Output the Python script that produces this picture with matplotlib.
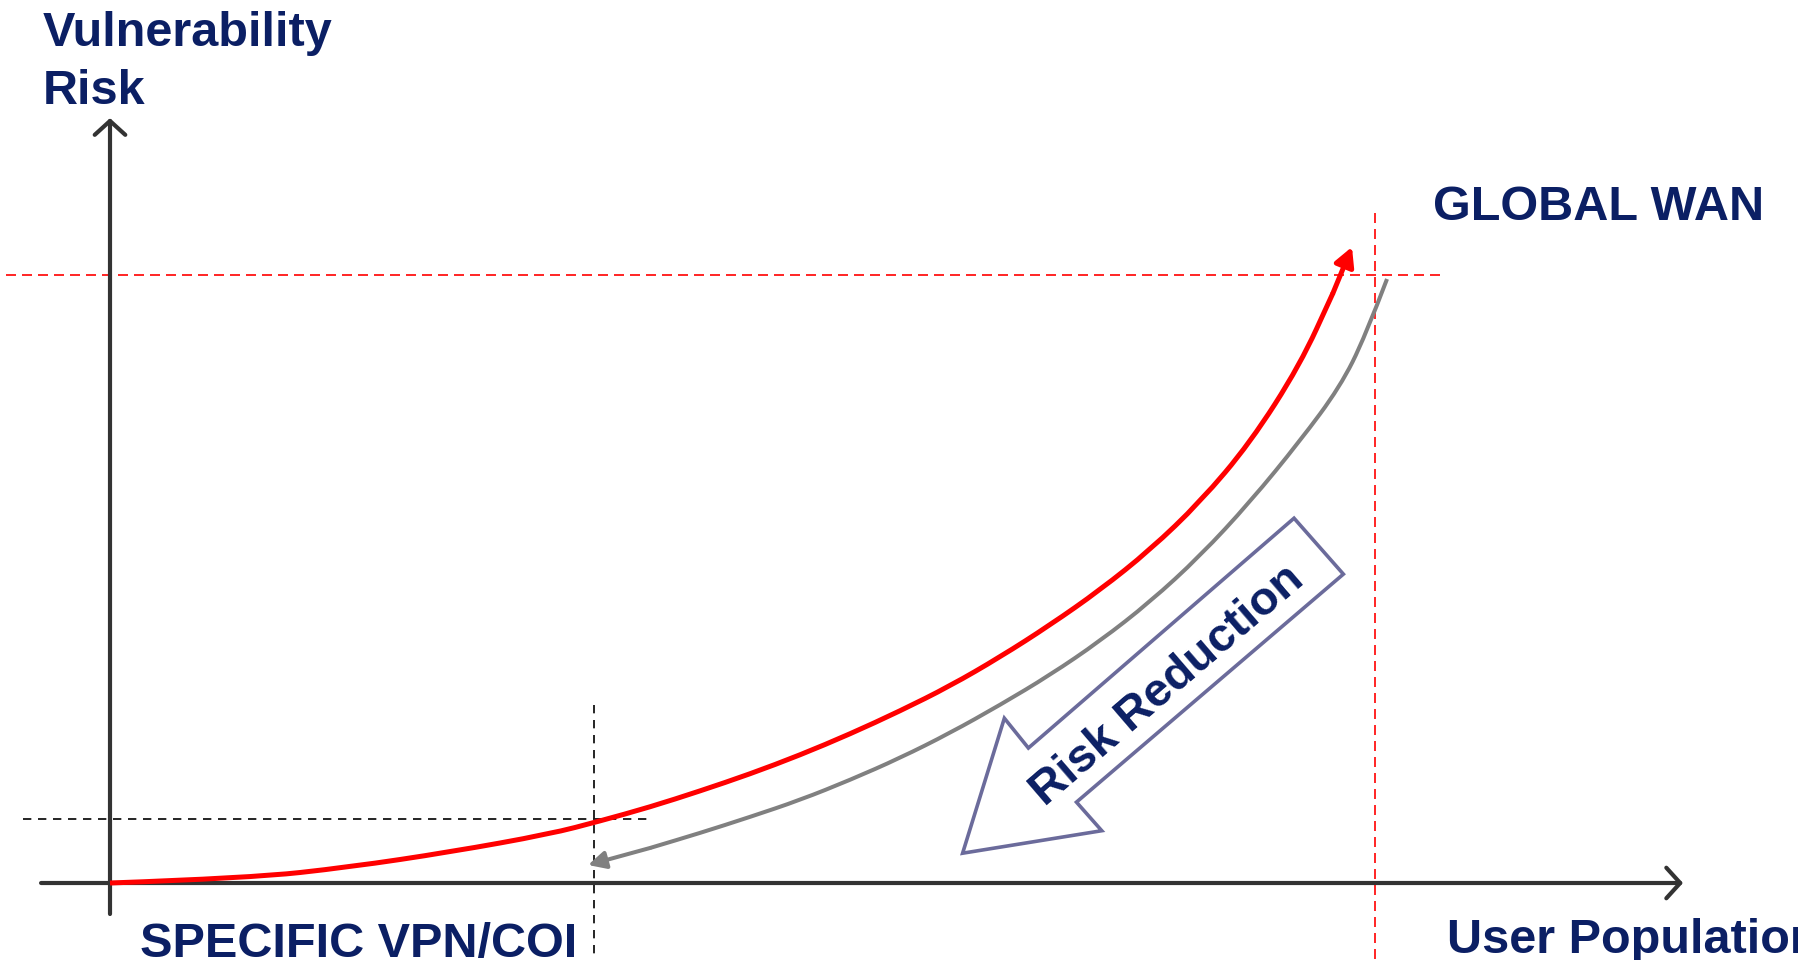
import matplotlib
matplotlib.use('Agg')
import matplotlib.pyplot as plt
from matplotlib.patches import Polygon, PathPatch
from matplotlib.path import Path
import numpy as np

plt.rcParams['font.family'] = ['Liberation Sans', 'DejaVu Sans']

# risk curve as the user population grows (x: population, y: risk, 1 = global WAN)
red_x = [0.0, 0.1107, 0.1897, 0.2688, 0.3478, 0.3874, 0.4269, 0.4664, 0.5059,
         0.5455, 0.5850, 0.6245, 0.6640, 0.7036, 0.7431, 0.7826, 0.8221,
         0.8617, 0.9012, 0.9407, 0.9668, 0.9818]
red_y = [0.0, 0.0082, 0.0263, 0.0510, 0.0806, 0.1020, 0.1250, 0.1513, 0.1793,
         0.2105, 0.2451, 0.2829, 0.3240, 0.3717, 0.4243, 0.4819, 0.5477,
         0.6266, 0.7237, 0.8520, 0.9704, 1.0461]

# return path (global WAN back down to specific VPN/COI)
gray_x = [1.0095, 0.9921, 0.9723, 0.9407, 0.9012, 0.8617, 0.8221, 0.7826,
          0.7431, 0.7036, 0.6640, 0.6245, 0.5850, 0.5455, 0.5059, 0.4664,
          0.4269, 0.3779]
gray_y = [0.9934, 0.8980, 0.8158, 0.7270, 0.6266, 0.5378, 0.4622, 0.3980,
          0.3421, 0.2928, 0.2467, 0.2056, 0.1694, 0.1365, 0.1086, 0.0822,
          0.0576, 0.0296]

# "Risk Reduction" block arrow outline
block_x = [0.936, 0.975, 0.764, 0.784, 0.674, 0.707, 0.726]
block_y = [0.600, 0.508, 0.133, 0.086, 0.049, 0.271, 0.222]

wan_x, wan_y = 1.0, 1.0
vpn_x, vpn_y = 0.383, 0.105

navy = '#0b1f64'
axis_col = '#333333'


def smooth_path(xs, ys):
    # quadratic bezier through the midpoints, read points act as control points
    pts = np.column_stack([xs, ys])
    verts = [pts[0]]
    codes = [Path.MOVETO]
    for i in range(1, len(pts) - 1):
        verts += [pts[i], (pts[i] + pts[i + 1]) / 2]
        codes += [Path.CURVE3, Path.CURVE3]
    verts.append(pts[-1])
    codes.append(Path.LINETO)
    return Path(verts, codes)


fig = plt.figure(figsize=(17.98, 9.6), dpi=100)
ax = fig.add_axes([0, 0, 1, 1])
ax.set_xlim(-0.08696, 1.33439)
ax.set_ylim(-0.12664, 1.45230)
ax.axis('off')

# axes with open arrow heads
axis_arrow = dict(arrowstyle='->,head_length=0.5,head_width=0.55',
                  lw=3, color=axis_col, mutation_scale=20,
                  shrinkA=0, shrinkB=0, capstyle='round')
ax.annotate('', xy=(1.2435, 0), xytext=(-0.0545, 0), arrowprops=axis_arrow)
ax.annotate('', xy=(0, 1.258), xytext=(0, -0.051), arrowprops=axis_arrow)

# reference dashed lines
ax.plot([-0.0822, 1.0553], [wan_y, wan_y], color='red', lw=1.2, dashes=(6, 3.6))
ax.plot([wan_x, wan_x], [1.102, -0.13], color='red', lw=1.2, dashes=(6, 3.6))
ax.plot([-0.0688, 0.4253], [vpn_y, vpn_y], color='black', lw=1.2, dashes=(5, 4))
ax.plot([vpn_x, vpn_x], [0.2928, -0.13], color='black', lw=1.2, dashes=(5, 4))

# red curve with arrow head
ax.add_patch(PathPatch(smooth_path(red_x[:-1], red_y[:-1]), fill=False,
                       edgecolor='red', lw=3.6, capstyle='butt', zorder=5))
ax.annotate('', xy=(red_x[-1], red_y[-1]), xytext=(red_x[-2], red_y[-2]),
            arrowprops=dict(arrowstyle='-|>,head_length=0.75,head_width=0.4',
                            lw=3.6, color='red', mutation_scale=15,
                            shrinkA=0, shrinkB=0), zorder=5)

# gray return curve with arrow head
ax.add_patch(PathPatch(smooth_path(gray_x[:-1], gray_y[:-1]), fill=False,
                       edgecolor='#808080', lw=2.9, capstyle='butt', zorder=4))
ax.annotate('', xy=(gray_x[-1], gray_y[-1]), xytext=(gray_x[-2], gray_y[-2]),
            arrowprops=dict(arrowstyle='-|>,head_length=0.7,head_width=0.35',
                            lw=2.9, color='#808080', mutation_scale=15,
                            shrinkA=0, shrinkB=0), zorder=4)

# block arrow
ax.add_patch(Polygon(np.column_stack([block_x, block_y]), closed=True,
                     facecolor='white', edgecolor='#6b6b9b', lw=2.6, zorder=6))
ax.text(0.836, 0.325, 'Risk Reduction', rotation=40.7, rotation_mode='anchor',
        ha='center', va='center', fontsize=34, fontweight='bold', color=navy, zorder=7)

# labels
ax.text(-0.053, 1.3765, 'Vulnerability', ha='left', va='baseline',
        fontsize=35, fontweight='bold', color=navy)
ax.text(-0.053, 1.281, 'Risk', ha='left', va='baseline',
        fontsize=35, fontweight='bold', color=navy)
ax.text(1.0458, 1.0905, 'GLOBAL WAN', ha='left', va='baseline',
        fontsize=35, fontweight='bold', color=navy)
ax.text(0.0237, -0.1225, 'SPECIFIC VPN/COI', ha='left', va='baseline',
        fontsize=35, fontweight='bold', color=navy)
ax.text(1.0569, -0.115, 'User Population', ha='left', va='baseline',
        fontsize=35, fontweight='bold', color=navy)

fig.savefig('out.png', dpi=100)
